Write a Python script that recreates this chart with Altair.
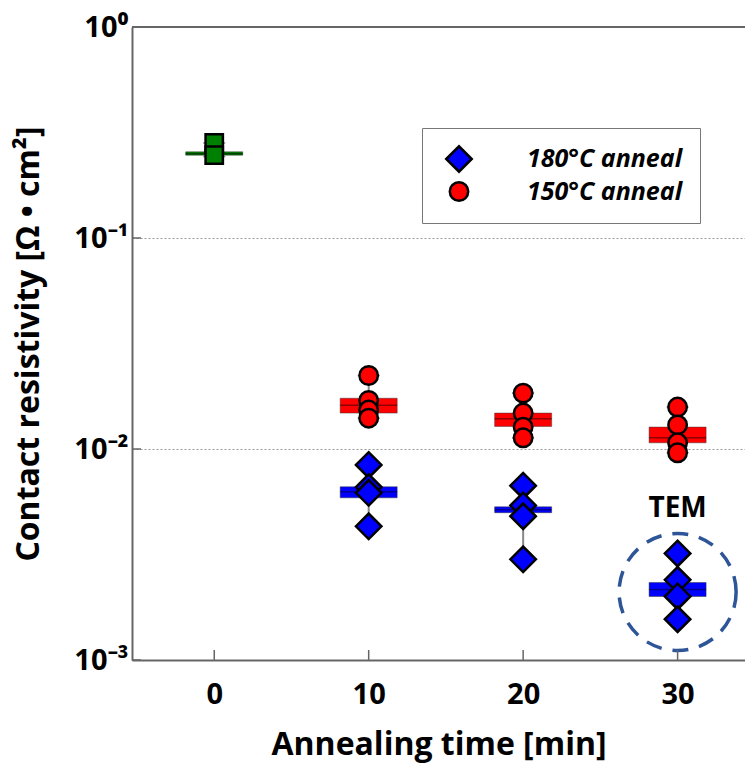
import altair as alt
import pandas as pd

# ---------------- data ----------------
series_names = ["180°C anneal", "150°C anneal"]

t_150 = [10, 10, 10, 10, 20, 20, 20, 20, 30, 30, 30, 30]
rho_150 = [0.0223, 0.0170, 0.0153, 0.0140,
           0.0184, 0.0148, 0.0127, 0.0113,
           0.0158, 0.0130, 0.0107, 0.0096]

t_180 = [10, 10, 10, 10, 20, 20, 20, 20, 30, 30, 30, 30]
rho_180 = [0.0084, 0.0066, 0.0062, 0.0043,
           0.0067, 0.0054, 0.0048, 0.0030,
           0.0032, 0.0024, 0.0020, 0.00156]

t_asdep = [0, 0]
rho_asdep = [0.282, 0.247]

box_time = [0, 10, 10, 20, 20, 30, 30]
box_series = ["as-deposited", "150°C anneal", "180°C anneal", "150°C anneal",
              "180°C anneal", "150°C anneal", "180°C anneal"]
box_q1 = [0.247, 0.0148, 0.00587, 0.0128, 0.00499, 0.0107, 0.00200]
box_q3 = [0.256, 0.0174, 0.00662, 0.0148, 0.00532, 0.0127, 0.00233]
box_med = [0.251, 0.0161, 0.00627, 0.0139, 0.00515, 0.0113, 0.00216]
box_min = [0.243, 0.0140, 0.0043, 0.0113, 0.0030, 0.0096, 0.00156]
box_max = [0.282, 0.0223, 0.0084, 0.0184, 0.0067, 0.0158, 0.0032]

x_ticks = [0, 10, 20, 30]
y_ticks = [1, 0.1, 0.01, 0.001]

tem_time = [30]
tem_rho = [0.0052]
tem_label = ["TEM"]
circle_time = [30]
circle_rho = [0.0021]

# ---------------- tables ----------------
pts = pd.DataFrame({
    "t": t_180 + t_150,
    "rho": rho_180 + rho_150,
    "series": [series_names[0]] * len(t_180) + [series_names[1]] * len(t_150),
})
asdep = pd.DataFrame({"t": t_asdep, "rho": rho_asdep})
boxes = pd.DataFrame({"t": box_time, "series": box_series, "q1": box_q1,
                      "q3": box_q3, "med": box_med, "lo": box_min, "hi": box_max})
xt = pd.DataFrame({"t": x_ticks})
yt = pd.DataFrame({"rho": y_ticks})
tem = pd.DataFrame({"t": tem_time, "rho": tem_rho, "label": tem_label})
circ = pd.DataFrame({"t": circle_time, "rho": circle_rho})
one = pd.DataFrame({"a": [0]})

W, H = 613, 633
FONT = "Open Sans"

xscale = alt.Scale(domain=[-5, 34.04], nice=False, zero=False)
yscale = alt.Scale(type="log", domain=[0.001, 1], nice=False)

x_axis = alt.Axis(
    values=x_ticks, title="Annealing time [min]", grid=False, ticks=False,
    labelFontSize=29, labelFont=FONT, labelFontWeight="bold", labelColor="black",
    labelPadding=20, domainColor="#666", domainWidth=2,
    titleFontSize=32, titleFont=FONT, titleFontWeight="bold", titleColor="black",
    titlePadding=20)
y_axis = alt.Axis(
    values=y_ticks, title="Contact resistivity [Ω • cm²]", grid=True,
    gridDash=[2, 2], gridColor="#999", gridWidth=1, ticks=False,
    labelExpr="datum.value > 0.5 ? '10⁰' : datum.value > 0.05 ? '10⁻¹' : datum.value > 0.005 ? '10⁻²' : '10⁻³'",
    labelFontSize=29, labelFont=FONT, labelFontWeight="bold", labelColor="black",
    labelPadding=4, domainColor="#666", domainWidth=2,
    titleFontSize=32, titleFont=FONT, titleFontWeight="bold", titleColor="black",
    titlePadding=28)

fill_scale = alt.Scale(domain=["as-deposited", "150°C anneal", "180°C anneal"],
                       range=["#008000", "#ff0000", "#0000ff"])

whisk = alt.Chart(boxes).mark_rule(color="#888", strokeWidth=2).encode(
    x=alt.X("t:Q", scale=xscale, axis=x_axis),
    y=alt.Y("lo:Q", scale=yscale, axis=y_axis), y2="hi:Q")
caps_lo = alt.Chart(boxes).mark_tick(color="#555", size=22, thickness=1.5,
                                     orient="horizontal").encode(
    x=alt.X("t:Q", scale=xscale), y=alt.Y("lo:Q", scale=yscale))
caps_hi = alt.Chart(boxes).mark_tick(color="#555", size=22, thickness=1.5,
                                     orient="horizontal").encode(
    x=alt.X("t:Q", scale=xscale), y=alt.Y("hi:Q", scale=yscale))
box = alt.Chart(boxes).mark_bar(size=57, stroke="#333", strokeWidth=0.8,
                                strokeOpacity=0.6).encode(
    x=alt.X("t:Q", scale=xscale), y=alt.Y("q1:Q", scale=yscale), y2="q3:Q",
    fill=alt.Fill("series:N", scale=fill_scale, legend=None))
med = alt.Chart(boxes).mark_tick(size=57, thickness=1.5, color="black",
                                 opacity=0.45, orient="horizontal").encode(
    x=alt.X("t:Q", scale=xscale), y=alt.Y("med:Q", scale=yscale))

leg = alt.Legend(
    orient="none", legendX=290, legendY=101, padding=17,
    rowPadding=0, strokeColor="#777", fillColor="white",
    labelFont=FONT, labelFontSize=25, labelFontStyle="italic",
    labelFontWeight="bold", labelColor="black", labelOffset=54,
    symbolOffset=6, symbolStrokeColor="black", symbolStrokeWidth=2.5)

pts_layer = alt.Chart(pts).mark_point(filled=True, stroke="black", strokeWidth=2.5,
                                      opacity=1).encode(
    x=alt.X("t:Q", scale=xscale), y=alt.Y("rho:Q", scale=yscale),
    color=alt.Color("series:N", title=None,
                    scale=alt.Scale(domain=series_names, range=["#0000ff", "#ff0000"]),
                    legend=leg),
    shape=alt.Shape("series:N", title=None,
                    scale=alt.Scale(domain=series_names, range=["diamond", "circle"]),
                    legend=leg),
    size=alt.Size("series:N", title=None,
                  scale=alt.Scale(domain=series_names, range=[650, 340]),
                  legend=leg))

asdep_layer = alt.Chart(asdep).mark_point(filled=True, shape="square", size=300,
                                          fill="#008000", stroke="black",
                                          strokeWidth=2.5, opacity=1).encode(
    x=alt.X("t:Q", scale=xscale), y=alt.Y("rho:Q", scale=yscale))

xtick_layer = alt.Chart(xt).mark_rule(color="#666", strokeWidth=1.5).encode(
    x=alt.X("t:Q", scale=xscale), y=alt.value(H), y2=alt.value(H - 10))
ytick_layer = alt.Chart(yt).mark_rule(color="#666", strokeWidth=1.5).encode(
    y=alt.Y("rho:Q", scale=yscale), x=alt.value(0), x2=alt.value(9))
top_border = alt.Chart(one).mark_rule(color="#666", strokeWidth=2).encode(
    y=alt.value(0), x=alt.value(0), x2=alt.value(W))

circle_layer = alt.Chart(circ).mark_point(shape="circle", size=13700, filled=False,
                                          stroke="#2e5597", strokeWidth=3.5,
                                          strokeDash=[16, 11], opacity=1).encode(
    x=alt.X("t:Q", scale=xscale), y=alt.Y("rho:Q", scale=yscale))
tem_layer = alt.Chart(tem).mark_text(font=FONT, fontSize=28, fontWeight="bold",
                                     color="black").encode(
    x=alt.X("t:Q", scale=xscale), y=alt.Y("rho:Q", scale=yscale), text="label:N")

chart = alt.layer(
    whisk, caps_lo, caps_hi, box, med, asdep_layer, pts_layer,
    circle_layer, tem_layer, xtick_layer, ytick_layer, top_border
).properties(
    width=W, height=H,
    autosize=alt.AutoSizeParams(type="none"),
    padding={"left": 124, "top": 19, "right": 0, "bottom": 105},
).configure_view(stroke=None)

chart.save("out.html", embed_options={"renderer": "svg", "actions": False})
